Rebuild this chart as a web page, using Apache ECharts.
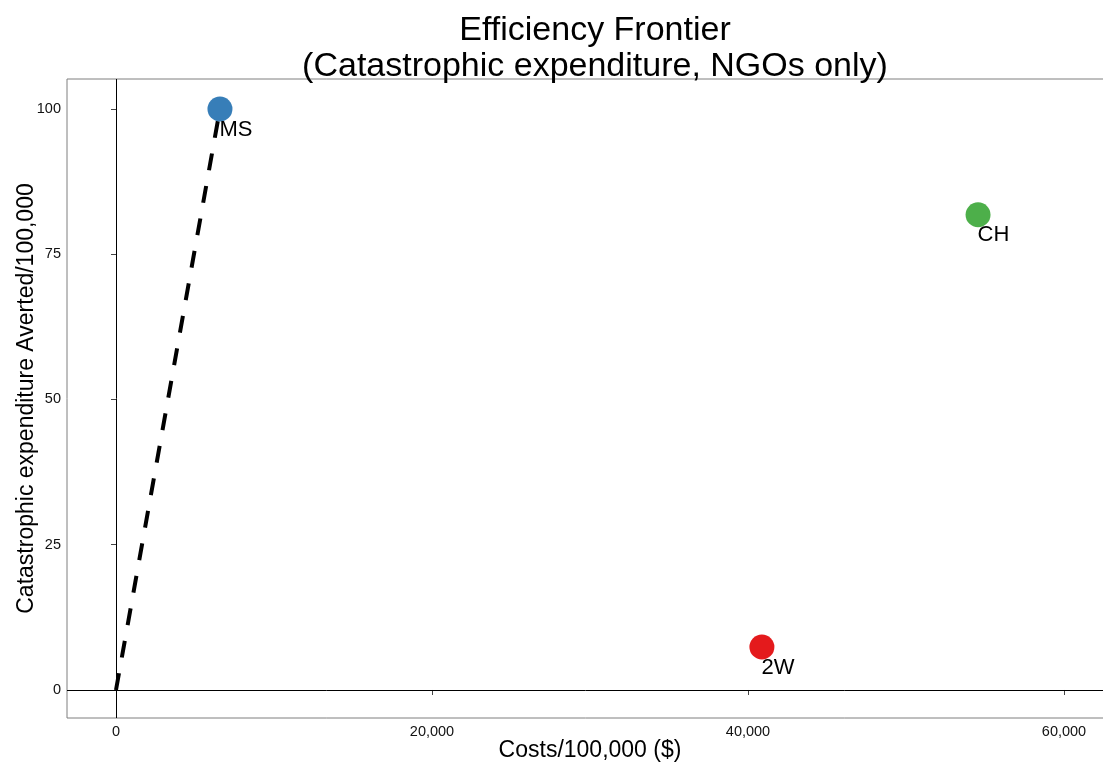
<!DOCTYPE html>
<html><head><meta charset="utf-8">
<script src="https://cdn.jsdelivr.net/npm/echarts@6/dist/echarts.min.js"></script>
<style>html,body{margin:0;padding:0;background:#fff}#c{width:1103px;height:767px}</style>
</head><body><div id="c"></div>
<script>
const names = ['MS', 'CH', '2W'];
const costs = [6580, 54560, 40880];
const averted = [100, 81.8, 7.4];
const colors = ['#377EB8', '#4DAF4A', '#E41A1C'];
const frontierX = [0, 6580];
const frontierY = [0, 100];
const xTicks = [0, 20000, 40000, 60000];
const yTicks = [0, 25, 50, 75, 100];

const chart = echarts.init(document.getElementById('c'));
const font = 'Liberation Sans, Arial, Helvetica, sans-serif';
const points = names.map((n, i) => ({
  value: [costs[i], averted[i]], name: n,
  itemStyle: {color: colors[i], opacity: 1}
}));
chart.setOption({
  animation: false,
  title: {
    text: 'Efficiency Frontier\n(Catastrophic expenditure, NGOs only)',
    left: 590, textAlign: 'center', top: 8,
    textStyle: {fontFamily: font, fontSize: 34, fontWeight: 'normal', color: '#000', lineHeight: 36}
  },
  grid: {left: 67, right: -10, top: 79, bottom: 49, show: true, borderColor: '#7f7f7f', borderWidth: 1,
    backgroundColor: '#fff', containLabel: false, outerBoundsMode: 'none'},
  xAxis: {
    type: 'value', min: -3101, max: 63101,
    name: 'Costs/100,000 ($)', nameLocation: 'middle', nameGap: 21, nameMoveOverlap: false,
    nameTextStyle: {fontFamily: font, fontSize: 23, color: '#000'},
    axisLine: {show: false}, splitLine: {show: false},
    axisTick: {show: true, length: 5, lineStyle: {color: '#444', width: 1}, customValues: xTicks},
    axisLabel: {fontFamily: font, fontSize: 14.5, color: '#111', margin: 6, customValues: xTicks,
      formatter: v => v.toLocaleString('en-US')}
  },
  yAxis: {
    type: 'value', min: -4.82, max: 105.16,
    name: 'Catastrophic expenditure Averted/100,000', nameLocation: 'middle', nameGap: 29, nameMoveOverlap: false,
    nameTextStyle: {fontFamily: font, fontSize: 23, color: '#000'},
    axisLine: {show: false}, splitLine: {show: false},
    axisTick: {show: true, length: 5, lineStyle: {color: '#444', width: 1}, customValues: yTicks},
    axisLabel: {fontFamily: font, fontSize: 14.5, color: '#111', margin: 6, customValues: yTicks}
  },
  series: [
    {
      type: 'line', data: [], silent: true,
      markLine: {
        silent: true, symbol: 'none', label: {show: false},
        lineStyle: {color: '#000', width: 1, type: 'solid'},
        data: [{xAxis: 0}, {yAxis: 0}]
      }
    },
    {
      type: 'line', data: frontierX.map((x, i) => [x, frontierY[i]]),
      showSymbol: false, symbol: 'none',
      lineStyle: {color: '#000', width: 4, type: [17, 16]}, z: 3
    },
    {
      type: 'scatter', data: points, symbolSize: 25, z: 4,
      itemStyle: {opacity: 1},
      label: {
        show: true, formatter: p => p.name, position: [12, 22],
        align: 'left', verticalAlign: 'top',
        fontFamily: font, fontSize: 22, color: '#000'
      }
    }
  ]
});
</script></body></html>
